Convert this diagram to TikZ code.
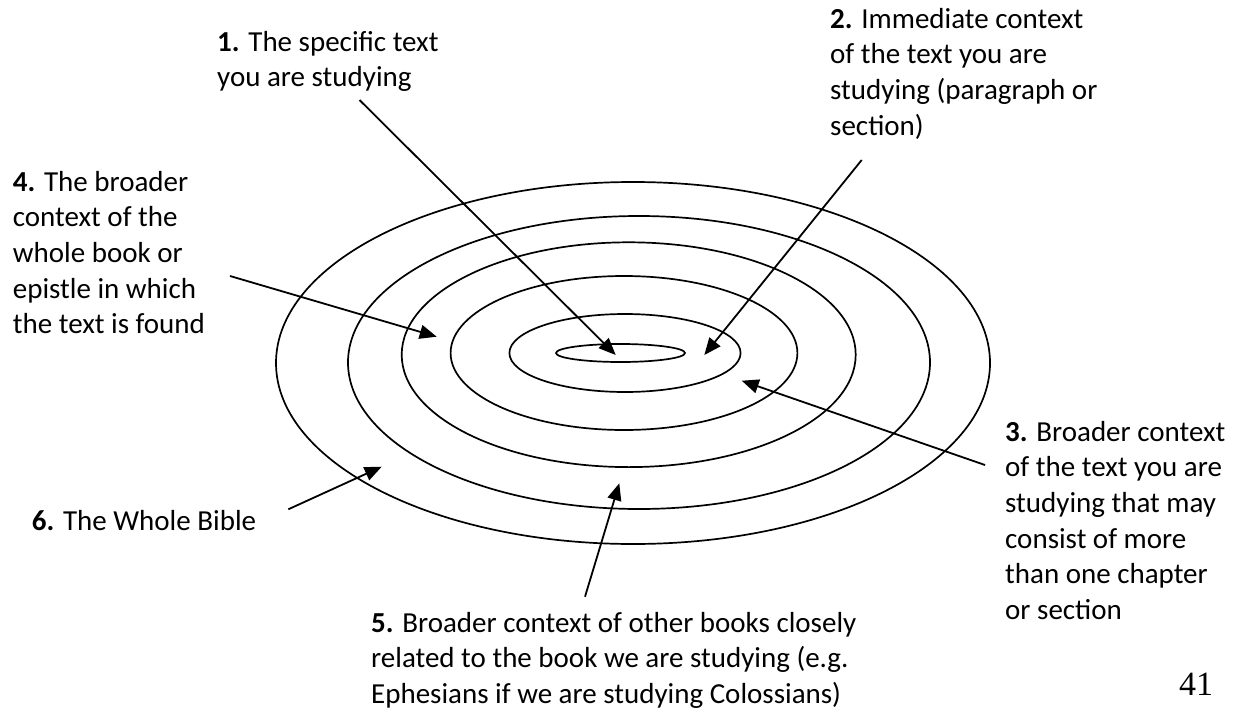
\documentclass[tikz,border=0pt]{standalone}
\usepackage{fontspec}
\setmainfont{Carlito}
\newfontfamily\pgnumfont{Liberation Serif}
\usetikzlibrary{arrows.meta}
\newcommand\lblfont{\fontsize{29}{35.7}\selectfont}
\begin{document}
\begin{tikzpicture}[x=1pt,y=-1pt,
  ring/.style={draw=black, line width=1.7pt},
  arr/.style={draw=black, line width=1.8pt, -{Triangle[length=17pt,width=14pt]}},
  lbl/.style={anchor=base west, inner sep=0pt, font=\lblfont},
  pgno/.style={anchor=base west, inner sep=0pt, font=\pgnumfont\fontsize{34}{40}\selectfont}]
\useasboundingbox[fill=white] (0,0) rectangle (1242,712);

% concentric rings
\draw[ring] (633,363) ellipse [x radius=357pt, y radius=181pt];
\draw[ring] (639,362.5) ellipse [x radius=291pt, y radius=146.5pt];
\draw[ring] (628.7,354.7) ellipse [x radius=227pt, y radius=112.4pt];
\draw[ring] (624,353) ellipse [x radius=173.4pt, y radius=77pt];
\draw[ring] (625,353) ellipse [x radius=115.6pt, y radius=39pt];
\draw[ring] (620.5,353) ellipse [x radius=64.5pt, y radius=9pt];

% labels
\node[lbl] (l1) at (217,51) {\begin{tabular}[t]{@{}l@{}}\textbf{1.} The specific text\\ you are studying\end{tabular}};
\node[lbl] (l2) at (830,28) {\begin{tabular}[t]{@{}l@{}}\textbf{2.} Immediate context\\ of the text you are\\ studying (paragraph or\\ section)\end{tabular}};
\node[lbl] (l3) at (1005,441) {\begin{tabular}[t]{@{}l@{}}\textbf{3.} Broader context\\ of the text you are\\ studying that may\\ consist of more\\ than one chapter\\ or section\end{tabular}};
\node[lbl] (l4) at (12.7,191) {\begin{tabular}[t]{@{}l@{}}\textbf{4.} The broader\\ context of the\\ whole book or\\ epistle in which\\ the text is found\end{tabular}};
\node[lbl] (l5) at (371,632) {\begin{tabular}[t]{@{}l@{}}\textbf{5.} Broader context of other books closely\\ related to the book we are studying (e.g.\\ Ephesians if we are studying Colossians)\end{tabular}};
\node[lbl] (l6) at (31.7,530) {\textbf{6.} The Whole Bible};
\node[pgno] (pg) at (1179,695) {41};

% arrow ends
\coordinate (s1) at (359.5,100);   \coordinate (t1) at (615.7,355);
\coordinate (s2) at (861.7,160);   \coordinate (t2) at (704.3,355);
\coordinate (s3) at (985,465);     \coordinate (t3) at (741.7,380.7);
\coordinate (s4) at (230,276);     \coordinate (t4) at (436.7,336.7);
\coordinate (s5) at (585,596.7);   \coordinate (t5) at (619.3,483.3);
\coordinate (s6) at (288.3,509.3); \coordinate (t6) at (381.7,466.7);

\draw[arr] (s1) -- (t1);
\draw[arr] (s2) -- (t2);
\draw[arr] (s3) -- (t3);
\draw[arr] (s4) -- (t4);
\draw[arr] (s5) -- (t5);
\draw[arr] (s6) -- (t6);
\end{tikzpicture}
\end{document}
